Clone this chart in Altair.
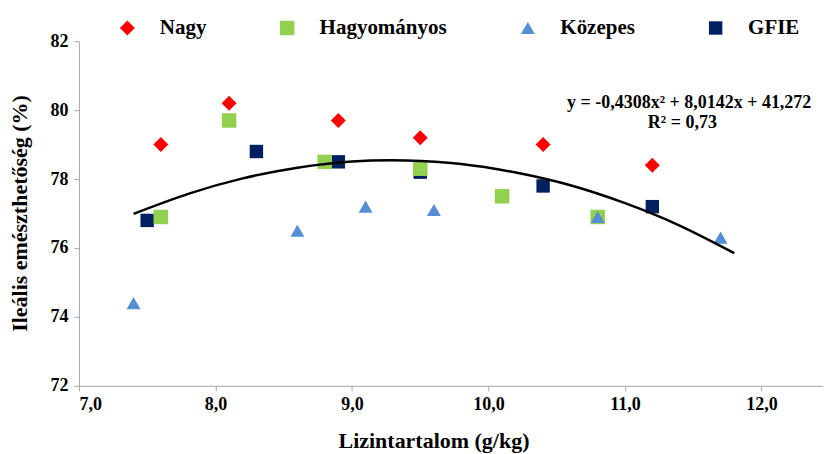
import altair as alt
import pandas as pd

# ---- data ----
series = ["Nagy", "Hagyományos", "Közepes", "GFIE"]
colors = ["#FF0000", "#92D050", "#558ED5", "#002060"]
shapes = ["diamond", "square", "triangle-up", "square"]
sizes = [225, 180, 246, 188]

nagy_x = [7.6, 8.1, 8.9, 9.5, 10.4, 11.2]
nagy_y = [79.0, 80.2, 79.7, 79.2, 79.0, 78.4]
hagy_x = [7.6, 8.1, 8.8, 9.5, 10.1, 10.8]
hagy_y = [76.9, 79.7, 78.5, 78.3, 77.5, 76.9]
kozep_x = [7.4, 8.6, 9.1, 9.6, 10.8, 11.7]
kozep_y = [74.4, 76.5, 77.2, 77.1, 76.9, 76.3]
gfie_x = [7.5, 8.3, 8.9, 9.5, 10.4, 11.2]
gfie_y = [76.8, 78.8, 78.5, 78.2, 77.8, 77.2]

# trend line
trend_x = [7.4, 7.8, 8.2, 8.6, 9.0, 9.4, 9.8, 10.2, 10.6, 11.0, 11.4, 11.8]
trend_y = [76.99, 77.57, 78.02, 78.33, 78.51, 78.54, 78.44, 78.19, 77.82, 77.30, 76.65, 75.85]

eq_text = ["y = -0,4308x² + 8,0142x + 41,272", "R² = 0,73"]
eq_x = [11.47, 11.42]
eq_y = [80.2, 79.62]

x_ticks = [7, 8, 9, 10, 11, 12]
y_ticks = [72, 74, 76, 78, 80, 82]

# ---- tables ----
rows = []
for name, xs, ys in [("GFIE", gfie_x, gfie_y), ("Nagy", nagy_x, nagy_y),
                     ("Hagyományos", hagy_x, hagy_y), ("Közepes", kozep_x, kozep_y)]:
    for a, b in zip(xs, ys):
        rows.append({"series": name, "x": a, "y": b})
pts = pd.DataFrame(rows)
trend = pd.DataFrame({"x": trend_x, "y": trend_y})
eq = pd.DataFrame({"t": eq_text, "x": eq_x, "y": eq_y})

FONT = "Liberation Serif"
GRAY = "#A6A6A6"

xscale = alt.Scale(domain=[7, 12.45], nice=False, zero=False)
yscale = alt.Scale(domain=[72, 82], nice=False, zero=False)

xaxis = alt.Axis(values=x_ticks, grid=False, domainColor=GRAY, tickColor=GRAY, tickSize=5,
                 labelFont=FONT, labelFontSize=18, labelFontWeight="bold", labelColor="black",
                 labelPadding=5,
                 labelExpr="replace(format(datum.value, '.1f'), '.', ',')",
                 title="Lizintartalom (g/kg)", titleFont=FONT, titleFontSize=22,
                 titleFontWeight="bold", titleColor="black", titleX=355, titleY=62,
                 titleAlign="center", titleBaseline="alphabetic")
yaxis = alt.Axis(values=y_ticks, grid=False, domainColor=GRAY, tickColor=GRAY, tickSize=5,
                 labelFont=FONT, labelFontSize=18, labelFontWeight="bold", labelColor="black",
                 labelPadding=6,
                 title="Ileális emészthetőség (%)", titleFont=FONT, titleFontSize=22,
                 titleFontWeight="bold", titleColor="black", titleX=-59, titleY=172,
                 titleAlign="center", titleBaseline="middle", titleAngle=-90)

shape_expr = " : ".join(
    ["datum.value === '%s' ? '%s'" % (s, sh) for s, sh in zip(series, shapes)]
) + " : 'square'"

leg = alt.Legend(orient="none", legendX=38, legendY=-24, direction="horizontal", title=None,
                 labelFont=FONT, labelFontSize=21, labelFontWeight="bold", labelColor="black",
                 labelOffset=22, columnPadding=70, padding=0, symbolOpacity=1,
                 symbolSize=210,
                 symbolType=alt.ExprRef(expr=shape_expr))

points = alt.Chart(pts).mark_point(filled=True, opacity=1).encode(
    x=alt.X("x:Q", scale=xscale, axis=xaxis),
    y=alt.Y("y:Q", scale=yscale, axis=yaxis),
    color=alt.Color("series:N", scale=alt.Scale(domain=series, range=colors), legend=leg),
    shape=alt.Shape("series:N", scale=alt.Scale(domain=series, range=shapes), legend=None),
    size=alt.Size("series:N", scale=alt.Scale(domain=series, range=sizes), legend=None),
)

curve = alt.Chart(trend).mark_line(color="black", strokeWidth=2.5, interpolate="natural").encode(
    x=alt.X("x:Q", scale=xscale),
    y=alt.Y("y:Q", scale=yscale),
)

eqtext = alt.Chart(eq).mark_text(font=FONT, fontSize=18, fontWeight="bold", color="black",
                                 align="center", baseline="middle").encode(
    x=alt.X("x:Q", scale=xscale),
    y=alt.Y("y:Q", scale=yscale),
    text="t:N",
)

chart = alt.layer(points, curve, eqtext).properties(
    width=745, height=345,
    autosize=alt.AutoSizeParams(type="none"),
    padding={"left": 71, "top": 33, "right": 0, "bottom": 67},
    background="white",
).configure_view(stroke=None)

chart.save("out.html", embed_options={"renderer": "svg", "actions": False})
